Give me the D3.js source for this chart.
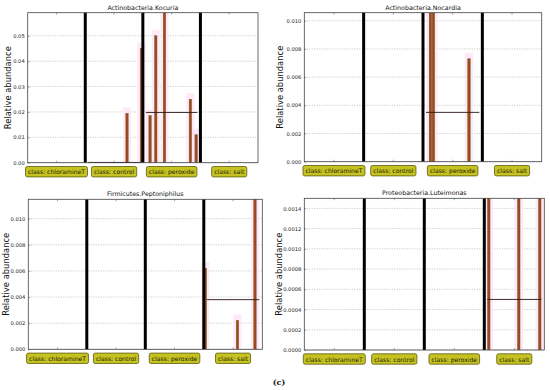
<!DOCTYPE html>
<html>
<head>
<meta charset="utf-8">
<script src="https://cdn.jsdelivr.net/npm/d3@7"></script>
<style>
  body { margin: 0; background: #fff; }
  svg { display: block; }
  text { font-family: "DejaVu Sans", sans-serif; }
</style>
</head>
<body>
<svg id="chart" width="550" height="390"></svg>
<script>
(function () {
    // classes and number of samples shown per class
    const classes = ["chloramineT", "control", "peroxide", "salt"];
    const samplesPerClass = 20;

    // bars: [class, sample index inside class, relative abundance]
    const kocuriaBars = [
        ["control", 14, 0.0194], ["control", 19, 0.045],
        ["peroxide", 2, 0.0185], ["peroxide", 4, 0.050], ["peroxide", 7, 0.062],
        ["peroxide", 16, 0.025], ["peroxide", 18, 0.011]
    ];
    const nocardiaBars = [
        ["peroxide", 2, 0.012], ["peroxide", 3, 0.012], ["peroxide", 15, 0.0073]
    ];
    const peptoniphilusBars = [
        ["salt", 0, 0.0062], ["salt", 11, 0.0022], ["salt", 17, 0.013]
    ];
    const luteimonasBars = [
        ["salt", 1, 0.0018], ["salt", 11, 0.0018], ["salt", 18, 0.0018]
    ];

    // class means (horizontal lines), same order as classes
    const kocuriaMeans = [0, 0.0001, 0.0198, 0];
    const nocardiaMeans = [0, 0, 0.0035, 0];
    const peptoniphilusMeans = [0, 0, 0, 0.0038];
    const luteimonasMeans = [0, 0, 0, 0.0005];

    // titles and y tick values
    const titles = ["Actinobacteria.Kocuria", "Actinobacteria.Nocardia",
        "Firmicutes.Peptoniphilus", "Proteobacteria.Luteimonas"];
    const kocuriaTicks = [0, 0.01, 0.02, 0.03, 0.04, 0.05];
    const nocardiaTicks = [0, 0.002, 0.004, 0.006, 0.008, 0.010];
    const peptoniphilusTicks = [0, 0.002, 0.004, 0.006, 0.008, 0.010];
    const luteimonasTicks = [0, 0.0002, 0.0004, 0.0006, 0.0008, 0.0010, 0.0012, 0.0014];

    const panels = [
        { title: titles[0], bars: kocuriaBars, means: kocuriaMeans, ticks: kocuriaTicks,
          ymax: 0.0591, fmt: ".2f", x: 27.7, y: 12.7, w: 230.3, h: 150, labX: 8.5 },
        { title: titles[1], bars: nocardiaBars, means: nocardiaMeans, ticks: nocardiaTicks,
          ymax: 0.01057, fmt: ".3f", x: 304.3, y: 12.7, w: 237.4, h: 149, labX: 280.5 },
        { title: titles[2], bars: peptoniphilusBars, means: peptoniphilusMeans, ticks: peptoniphilusTicks,
          ymax: 0.01148, fmt: ".3f", x: 28.3, y: 199.3, w: 234, h: 150, labX: 6.5 },
        { title: titles[3], bars: luteimonasBars, means: luteimonasMeans, ticks: luteimonasTicks,
          ymax: 0.0015, fmt: ".4f", x: 304.3, y: 198.3, w: 240, h: 151.7, labX: 279 }
    ];

    const svg = d3.select("#chart");
    const total = classes.length * samplesPerClass;

    panels.forEach(function (p, i) {
        const g = svg.append("g").attr("transform", "translate(" + p.x + "," + p.y + ")");

        const x = d3.scaleLinear().domain([0, total]).range([0, p.w]);
        const y = d3.scaleLinear().domain([0, p.ymax]).range([p.h, 0]);
        const slot = x(1) - x(0);
        const pos = d => classes.indexOf(d[0]) * samplesPerClass + d[1] + 0.5;

        g.append("clipPath").attr("id", "clip" + i)
            .append("rect").attr("width", p.w).attr("height", p.h);

        //dotted grid
        g.append("g")
            .selectAll("line")
            .data(p.ticks)
            .join("line")
            .attr("x1", 0).attr("x2", p.w)
            .attr("y1", d => y(d)).attr("y2", d => y(d))
            .attr("stroke", "#9a9a9a")
            .attr("stroke-width", 0.6)
            .attr("stroke-dasharray", "1,1.5");

        const plot = g.append("g").attr("clip-path", "url(#clip" + i + ")");

        //pink halos behind the bars
        plot.append("g")
            .selectAll("rect")
            .data(p.bars)
            .join("rect")
            .attr("x", d => x(pos(d)) - slot * 1.4)
            .attr("width", slot * 2.8)
            .attr("y", d => y(d[2]) - 6)
            .attr("height", d => p.h - y(d[2]) + 6)
            .attr("fill", "#fde3f6")
            .attr("opacity", 0.8);

        //bars
        plot.append("g")
            .selectAll("rect")
            .data(p.bars)
            .join("rect")
            .attr("x", d => x(pos(d)) - slot * 0.4)
            .attr("width", slot * 0.8)
            .attr("y", d => y(d[2]))
            .attr("height", d => p.h - y(d[2]))
            .attr("fill", "#a3481c")
            .attr("stroke", "#6e5418")
            .attr("stroke-width", 0.5);

        //class separators
        g.append("g")
            .selectAll("line")
            .data(classes.slice(1))
            .join("line")
            .attr("x1", (d, k) => x((k + 1) * samplesPerClass))
            .attr("x2", (d, k) => x((k + 1) * samplesPerClass))
            .attr("y1", 0).attr("y2", p.h)
            .attr("stroke", "#000")
            .attr("stroke-width", 3);

        //class means
        g.append("g")
            .selectAll("line")
            .data(p.means.map((m, k) => [k, m]).filter(d => d[1] > 0))
            .join("line")
            .attr("x1", d => x(d[0] * samplesPerClass) + 3)
            .attr("x2", d => x((d[0] + 1) * samplesPerClass) - 3)
            .attr("y1", d => y(d[1])).attr("y2", d => y(d[1]))
            .attr("stroke", "#2a1410")
            .attr("stroke-width", 0.9);

        //frame
        g.append("rect")
            .attr("width", p.w).attr("height", p.h)
            .attr("fill", "none")
            .attr("stroke", "#444")
            .attr("stroke-width", 0.8);

        //small x ticks at class centres
        const centres = classes.map((c, k) => x((k + 0.5) * samplesPerClass));
        g.append("g").selectAll("line").data(centres).join("line")
            .attr("x1", d => d).attr("x2", d => d)
            .attr("y1", 0).attr("y2", 2)
            .attr("stroke", "#555").attr("stroke-width", 0.5);
        g.append("g").selectAll("line").data(centres).join("line")
            .attr("x1", d => d).attr("x2", d => d)
            .attr("y1", p.h).attr("y2", p.h - 2)
            .attr("stroke", "#555").attr("stroke-width", 0.5);

        //y axis
        const yAxis = g.append("g")
            .call(d3.axisLeft(y).tickValues(p.ticks).tickFormat(d3.format(p.fmt)).tickSize(-2).tickPadding(3));
        yAxis.select(".domain").remove();
        yAxis.selectAll("line").attr("stroke", "#555").attr("stroke-width", 0.5);
        yAxis.selectAll("text")
            .style("font-size", "5.2px")
            .attr("fill", "#222");

        //title
        g.append("text")
            .attr("x", p.w / 2)
            .attr("y", -3)
            .attr("text-anchor", "middle")
            .style("font-size", "6.3px")
            .attr("fill", "#111")
            .text(p.title);

        //y label
        svg.append("text")
            .attr("transform", "translate(" + p.labX + "," + (p.y + p.h / 2) + ") rotate(-90)")
            .attr("text-anchor", "middle")
            .attr("dominant-baseline", "middle")
            .style("font-size", "8.4px")
            .attr("fill", "#111")
            .text("Relative abundance");

        //class label boxes
        const lab = g.append("g")
            .selectAll("g")
            .data(classes)
            .join("g")
            .attr("transform", (d, k) => "translate(" + centres[k] + "," + (p.h + 9) + ")");
        lab.append("text")
            .attr("text-anchor", "middle")
            .attr("dominant-baseline", "central")
            .style("font-size", "6.1px")
            .attr("fill", "#1a1a00")
            .text(d => "class: " + d);
        lab.insert("rect", "text")
            .each(function () {
                const tw = this.parentNode.querySelector("text").getComputedTextLength();
                d3.select(this)
                    .attr("x", -tw / 2 - 2.5).attr("width", tw + 5)
                    .attr("y", -5.2).attr("height", 10.4);
            })
            .attr("rx", 1.8)
            .attr("fill", "#c5c222")
            .attr("stroke", "#5e5c10")
            .attr("stroke-width", 0.8);
    });

    svg.append("text")
        .attr("x", 279)
        .attr("y", 385)
        .attr("text-anchor", "middle")
        .style("font-family", "'DejaVu Serif', serif")
        .style("font-weight", "bold")
        .style("font-size", "8px")
        .attr("fill", "#111")
        .text("(c)");
})();
</script>
</body>
</html>
